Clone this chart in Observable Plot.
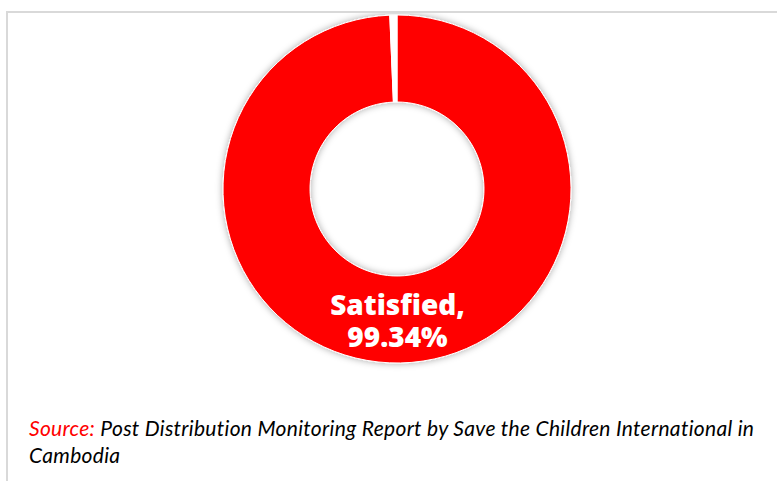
<!DOCTYPE html>
<html>
<head>
<meta charset="utf-8">
<script src="https://cdn.jsdelivr.net/npm/d3@7"></script>
<script src="https://cdn.jsdelivr.net/npm/@observablehq/plot@0.6"></script>
<style>
  html, body { margin: 0; padding: 0; background: #fff; }
  #frame {
    position: absolute; left: 6px; top: 11px; width: 790px; height: 480px;
    border-top: 2px solid #d9d9d9; border-left: 2px solid #d9d9d9;
    box-sizing: border-box;
  }
  #chart { position: absolute; left: 0; top: 0; }
  #caption {
    position: absolute; left: 21px; top: 401px; width: 742px;
    font-family: Lato, "Open Sans", sans-serif; font-style: italic;
    font-size: 21px; line-height: 27px; letter-spacing: 0.3px; color: #000;
  }
  #caption .src { color: #ff0000; }
</style>
</head>
<body>
<div id="frame">
  <div id="chart"></div>
  <div id="caption"><span class="src">Source:</span> Post Distribution Monitoring Report by Save the Children International in Cambodia</div>
</div>
<script>
const categories = ["Satisfied", "Not satisfied"];
const values = [99.34, 0.66];
const colors = ["#ff0000", "#ffffff"];
const labelled = ["Satisfied"];

const slices = categories.map((c, i) => ({category: c, value: values[i], color: colors[i]}));
const labels = slices.filter(d => labelled.includes(d.category))
  .map(d => ({text: `${d.category},\n${d.value.toFixed(2)}%`}));

const W = 771, H = 390;
const cx = 389, cy = 176, R = 174;
const innerRatio = 0.5;

function donut(index, scales, values_, dimensions, context) {
  const x0 = scales.x(0), y0 = scales.y(0);
  const r = scales.x(1) - scales.x(0);
  const svg = d3.select(context.document.createElementNS("http://www.w3.org/2000/svg", "g"));
  const defs = svg.append("defs");
  const f = defs.append("filter").attr("id", "shadow")
    .attr("x", "-20%").attr("y", "-20%").attr("width", "140%").attr("height", "140%");
  f.append("feDropShadow").attr("dx", 0).attr("dy", 0).attr("stdDeviation", 3.5)
    .attr("flood-color", "#000").attr("flood-opacity", 0.35);
  const pie = d3.pie().sort(null).value(d => d.value);
  const arc = d3.arc().innerRadius(r * innerRatio).outerRadius(r);
  const g = svg.append("g").attr("transform", `translate(${x0},${y0})`).attr("filter", "url(#shadow)");
  g.selectAll("path").data(pie(slices)).join("path")
    .attr("d", arc).attr("fill", d => d.data.color)
    .attr("stroke", "#fff").attr("stroke-width", 1);
  return svg.node();
}

const chart = Plot.plot({
  width: W, height: H,
  margin: 0,
  x: {domain: [(0 - cx) / R, (W - cx) / R], axis: null},
  y: {domain: [-(H - cy) / R, cy / R], axis: null},
  marks: [
    donut,
    Plot.text(labels, {
      x: () => 0, y: () => -0.753, text: "text",
      fill: "#fff", fontSize: 28, fontWeight: 800, lineHeight: 1.143,
      fontFamily: "'Open Sans', sans-serif", textAnchor: "middle"
    })
  ]
});
document.getElementById("chart").appendChild(chart);
</script>
</body>
</html>
